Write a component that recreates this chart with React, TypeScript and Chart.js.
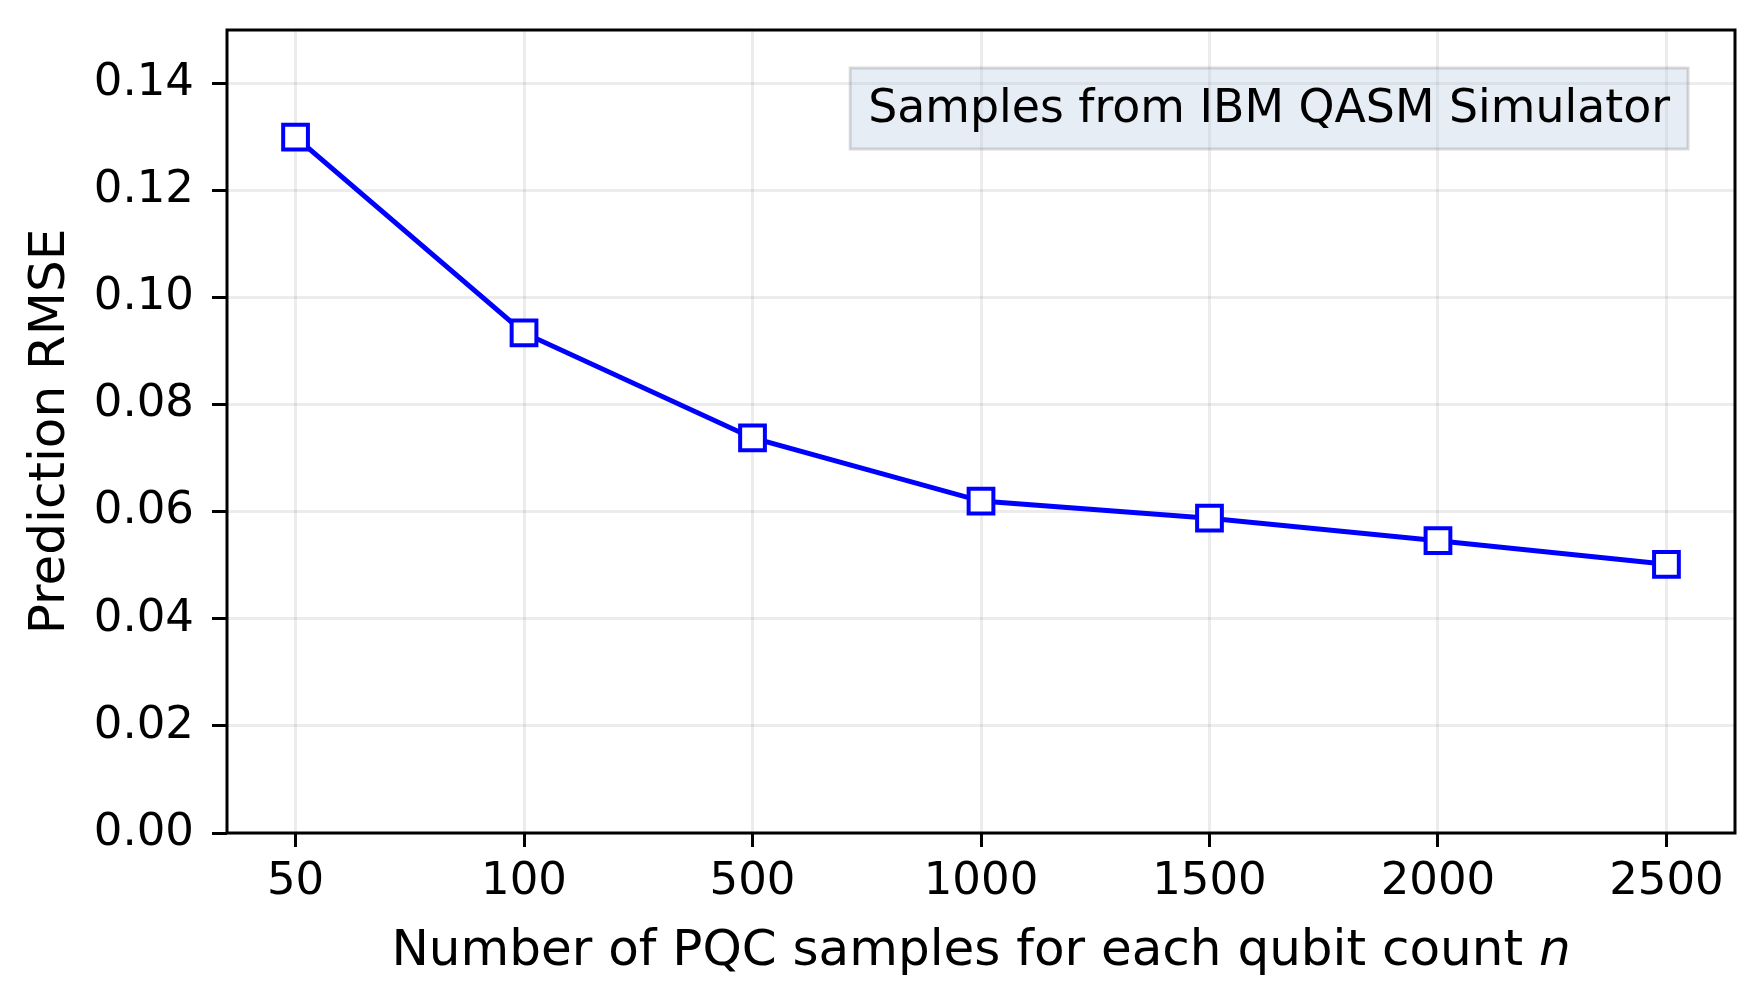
import React, { useEffect, useRef } from "react";
import { Chart, registerables } from "chart.js";

Chart.register(...registerables);

const categories = ["50", "100", "500", "1000", "1500", "2000", "2500"];
const rmseValues = [0.13, 0.0934, 0.0738, 0.062, 0.0588, 0.0546, 0.0502];
const yTickValues = [0, 0.02, 0.04, 0.06, 0.08, 0.1, 0.12, 0.14];
const yMax = 0.15;
const xTitleMain = "Number of PQC samples for each qubit count ";
const xTitleVar = "n";
const yTitle = "Prediction RMSE";
const annotationText = "Samples from IBM QASM Simulator";

const W = 1764;
const H = 1006;
const FONT = "'DejaVu Sans', sans-serif";

const extrasPlugin = {
  id: "extras",
  afterDatasetsDraw(chart: any) {
    const { ctx, chartArea } = chart;
    ctx.save();
    const fontSize = 45.8;
    ctx.font = `${fontSize}px ${FONT}`;
    const tw = ctx.measureText(annotationText).width;
    const padX = 18;
    const boxRight = chartArea.right - 47;
    const boxTop = chartArea.top + 38;
    const boxW = tw + padX * 2;
    const boxH = 81;
    const boxLeft = boxRight - boxW;
    ctx.fillStyle = "rgba(176,196,222,0.3)";
    ctx.fillRect(boxLeft, boxTop, boxW, boxH);
    ctx.strokeStyle = "rgba(128,128,128,0.3)";
    ctx.lineWidth = 3;
    ctx.strokeRect(boxLeft, boxTop, boxW, boxH);
    ctx.fillStyle = "#000";
    ctx.textAlign = "left";
    ctx.textBaseline = "alphabetic";
    ctx.fillText(annotationText, boxLeft + padX, boxTop + 54);
    ctx.restore();
  },
  afterDraw(chart: any) {
    const { ctx, chartArea } = chart;
    ctx.save();
    ctx.strokeStyle = "#000";
    ctx.lineWidth = 3;
    ctx.strokeRect(
      chartArea.left,
      chartArea.top,
      chartArea.right - chartArea.left,
      chartArea.bottom - chartArea.top
    );
    const size = 50;
    ctx.font = `${size}px ${FONT}`;
    const w1 = ctx.measureText(xTitleMain).width;
    ctx.font = `italic ${size}px ${FONT}`;
    const w2 = ctx.measureText(xTitleVar).width;
    const cx = (chartArea.left + chartArea.right) / 2;
    const startX = cx - (w1 + w2) / 2;
    const baseY = chartArea.bottom + 132;
    ctx.fillStyle = "#000";
    ctx.textAlign = "left";
    ctx.textBaseline = "alphabetic";
    ctx.font = `${size}px ${FONT}`;
    ctx.fillText(xTitleMain, startX, baseY);
    ctx.font = `italic ${size}px ${FONT}`;
    ctx.fillText(xTitleVar, startX + w1, baseY);
    ctx.restore();
  },
};

export default function App() {
  const canvasRef = useRef<HTMLCanvasElement | null>(null);

  useEffect(() => {
    const canvas = canvasRef.current;
    if (!canvas) return;
    const points = rmseValues.map((v, i) => ({ x: i, y: v }));
    const chart = new Chart(canvas, {
      type: "line",
      data: {
        datasets: [
          {
            data: points,
            borderColor: "#0000ff",
            borderWidth: 5,
            pointStyle: "rect",
            pointRadius: 17.5,
            pointHoverRadius: 17.5,
            pointBackgroundColor: "#ffffff",
            pointBorderColor: "#0000ff",
            pointBorderWidth: 4,
            fill: false,
            tension: 0,
          },
        ],
      },
      options: {
        animation: false,
        responsive: false,
        devicePixelRatio: 1,
        events: [],
        layout: { padding: { left: 0, top: 30, right: 29, bottom: 0 } },
        plugins: {
          legend: { display: false },
          tooltip: { enabled: false },
        },
        scales: {
          x: {
            type: "linear",
            min: -0.3,
            max: 6.3,
            afterBuildTicks: (scale: any) => {
              scale.ticks = categories.map((_, i) => ({ value: i }));
            },
            afterFit: (scale: any) => {
              scale.height = 173;
              scale.paddingLeft = 0;
              scale.paddingRight = 0;
            },
            ticks: {
              callback: (v: any) => categories[Number(v)] ?? "",
              font: { family: FONT, size: 45, lineHeight: 1 },
              color: "#000",
              padding: 13,
              maxRotation: 0,
              autoSkip: false,
            },
            grid: {
              color: "rgba(0,0,0,0.075)",
              lineWidth: 3,
              drawTicks: true,
              tickLength: 14,
              tickColor: "#000",
              tickWidth: 3,
            },
            border: { display: false },
            title: { display: false },
          },
          y: {
            type: "linear",
            min: 0,
            max: yMax,
            afterBuildTicks: (scale: any) => {
              scale.ticks = yTickValues.map((v) => ({ value: v }));
            },
            afterFit: (scale: any) => {
              scale.width = 227;
              scale.paddingTop = 0;
              scale.paddingBottom = 0;
            },
            ticks: {
              callback: (v: any) => Number(v).toFixed(2),
              font: { family: FONT, size: 45, lineHeight: 1 },
              color: "#000",
              padding: 18,
              autoSkip: false,
            },
            grid: {
              color: "rgba(0,0,0,0.075)",
              lineWidth: 3,
              drawTicks: true,
              tickLength: 15,
              tickColor: "#000",
              tickWidth: 3,
            },
            border: { display: false },
            title: {
              display: true,
              text: yTitle,
              color: "#000",
              font: { family: FONT, size: 50, lineHeight: 1.2 },
              padding: { top: 21, bottom: 0 },
            },
          },
        },
      },
      plugins: [extrasPlugin],
    });
    return () => chart.destroy();
  }, []);

  return (
    <div style={{ position: "absolute", left: 0, top: 0, width: W, height: H, background: "#fff" }}>
      <canvas ref={canvasRef} width={W} height={H} style={{ width: W, height: H, display: "block" }} />
    </div>
  );
}
